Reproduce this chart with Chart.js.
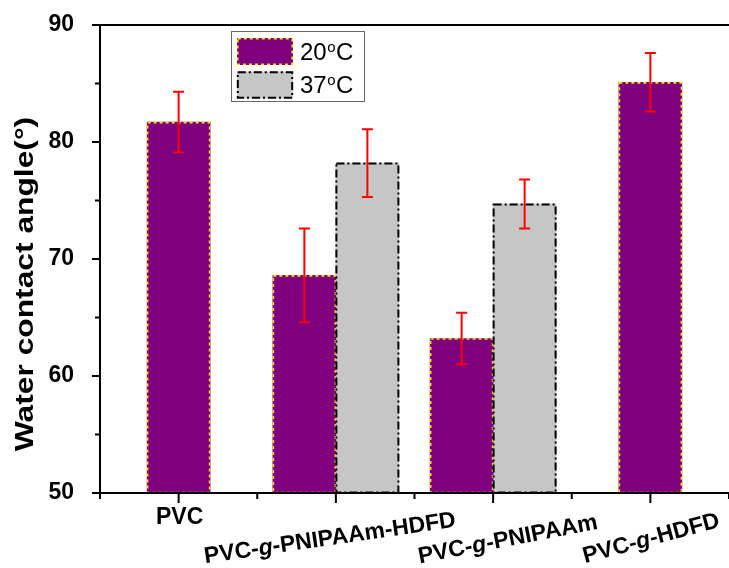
<!DOCTYPE html>
<html>
<head>
<meta charset="utf-8">
<script src="https://cdn.jsdelivr.net/npm/chart.js@4/dist/chart.umd.min.js"></script>
<style>
  html, body { margin: 0; padding: 0; background: #fff; overflow: hidden; }
  #wrap { width: 729px; height: 568px; position: relative; }
</style>
</head>
<body>
<div id="wrap"><canvas id="c" width="729" height="568"></canvas></div>
<script>
// Samples and measured water contact angles (degrees), mean ± error
const categories = ['PVC', 'PVC-g-PNIPAAm-HDFD', 'PVC-g-PNIPAAm', 'PVC-g-HDFD'];
const temps = ['20', '37'];
const angle20 = [81.7, 68.6, 63.2, 85.1];
const err20 = [2.6, 4.0, 2.2, 2.5];
const angle37 = [null, 78.2, 74.7, null];
const err37 = [null, 2.9, 2.1, null];
const yTicks = [50, 60, 70, 80, 90];
const yTitle = 'Water contact angle(°)';

// Styling
const FONT = "'Liberation Sans', Arial, Helvetica, sans-serif";
const PURPLE = '#7f007f';
const GREY = '#c6c6c6';
const YELLOW = '#f4e400';
const RED = '#ff0000';
// per-label placement of the category names (offset from tick, baseline drop, tilt in degrees)
const labelPlacement = [
  { dx: 1, dy: 31, rot: 0 },
  { dx: -5, dy: 52, rot: 8.3 },
  { dx: 16, dy: 53, rot: 11 },
  { dx: 2.5, dy: 52, rot: 15 }
];

const styles = [
  { fill: PURPLE, stroke: YELLOW, dash: [3, 3], lw: 1.6 },
  { fill: GREY, stroke: '#000', dash: [8, 3, 2, 3], lw: 2 }
];

function strokeBox(ctx, x, y, w, h, st) {
  ctx.save();
  ctx.strokeStyle = st.stroke;
  ctx.lineWidth = st.lw;
  ctx.setLineDash(st.dash);
  ctx.strokeRect(x, y, w, h);
  ctx.restore();
}

// Dashed bar outlines and red error bars, placed from the bar elements
const barDecor = {
  id: 'barDecor',
  afterDatasetsDraw(chart) {
    const ctx = chart.ctx;
    const yScale = chart.scales.y;
    const bottom = chart.chartArea.bottom;
    chart.data.datasets.forEach((ds, i) => {
      const meta = chart.getDatasetMeta(i);
      meta.data.forEach((bar, j) => {
        const v = ds.data[j];
        if (v == null) return;
        const p = bar.getProps(['x', 'y', 'base', 'width'], true);
        const b = Math.min(p.base, bottom);
        strokeBox(ctx, p.x - p.width / 2 + 0.5, p.y + 0.5, p.width - 1, b - p.y - 1, styles[i]);
      });
    });
    chart.data.datasets.forEach((ds, i) => {
      const meta = chart.getDatasetMeta(i);
      meta.data.forEach((bar, j) => {
        const v = ds.data[j];
        const e = ds.errors[j];
        if (v == null || e == null) return;
        const x = bar.getProps(['x'], true).x;
        const yt = yScale.getPixelForValue(v + e);
        const yb = yScale.getPixelForValue(v - e);
        ctx.save();
        ctx.strokeStyle = RED;
        ctx.lineWidth = 2;
        ctx.beginPath();
        ctx.moveTo(x, yt); ctx.lineTo(x, yb);
        ctx.moveTo(x - 5.5, yt); ctx.lineTo(x + 5.5, yt);
        ctx.moveTo(x - 5.5, yb); ctx.lineTo(x + 5.5, yb);
        ctx.stroke();
        ctx.restore();
      });
    });
  }
};

// Frame lines, tick marks, category names, axis title and legend
const decor = {
  id: 'decor',
  afterDraw(chart) {
    const ctx = chart.ctx;
    const a = chart.chartArea;
    const xs = chart.scales.x, ys = chart.scales.y;
    ctx.save();
    ctx.strokeStyle = '#000';
    ctx.lineWidth = 2;
    ctx.beginPath();
    // top frame, left and bottom axis lines
    ctx.moveTo(a.left - 1, a.top); ctx.lineTo(a.right + 2, a.top);
    ctx.moveTo(a.left, a.top); ctx.lineTo(a.left, a.bottom + 1);
    ctx.moveTo(a.left - 1, a.bottom); ctx.lineTo(a.right + 2, a.bottom);
    // major y ticks
    yTicks.forEach(v => {
      const yy = ys.getPixelForValue(v);
      ctx.moveTo(a.left - 8, yy); ctx.lineTo(a.left, yy);
    });
    // minor y ticks halfway between labelled ticks
    for (let k = 0; k < yTicks.length - 1; k++) {
      const yy = ys.getPixelForValue((yTicks[k] + yTicks[k + 1]) / 2);
      ctx.moveTo(a.left - 5, yy); ctx.lineTo(a.left, yy);
    }
    // major x ticks at categories, minor ones at boundaries
    categories.forEach((c, k) => {
      const xx = xs.getPixelForValue(k);
      ctx.moveTo(xx, a.bottom); ctx.lineTo(xx, a.bottom + 10);
    });
    for (let k = 0; k <= categories.length; k++) {
      const xx = xs.getPixelForValue(k - 0.5);
      ctx.moveTo(xx, a.bottom); ctx.lineTo(xx, a.bottom + 6);
    }
    ctx.stroke();

    // category names, with the graft "g" in italics
    ctx.fillStyle = '#000';
    ctx.textBaseline = 'alphabetic';
    categories.forEach((lab, k) => {
      const pl = labelPlacement[k];
      const parts = lab.split('-');
      const pieces = [];
      parts.forEach((s, n) => {
        if (n > 0) pieces.push({ t: '-', it: false });
        pieces.push({ t: s, it: s === 'g' });
      });
      const fontFor = (it) => (it ? 'italic ' : '') + 'bold 23px ' + FONT;
      let total = 0;
      pieces.forEach(pc => { ctx.font = fontFor(pc.it); pc.w = ctx.measureText(pc.t).width; total += pc.w; });
      ctx.save();
      ctx.translate(xs.getPixelForValue(k) + pl.dx, a.bottom + pl.dy);
      ctx.rotate(-pl.rot * Math.PI / 180);
      let cx = -total / 2;
      ctx.textAlign = 'left';
      pieces.forEach(pc => { ctx.font = fontFor(pc.it); ctx.fillText(pc.t, cx, 0); cx += pc.w; });
      ctx.restore();
    });

    // y axis title
    ctx.save();
    ctx.translate(33, 284);
    ctx.rotate(-Math.PI / 2);
    ctx.scale(1.27, 1);
    ctx.font = 'bold 25px ' + FONT;
    ctx.textAlign = 'center';
    ctx.fillText(yTitle, 0, 0);
    ctx.restore();

    // legend
    const lx = a.left + 131.5, ly = a.top + 6.5;
    ctx.strokeStyle = '#666';
    ctx.lineWidth = 1;
    ctx.setLineDash([]);
    ctx.strokeRect(lx, ly, 133, 70);
    temps.forEach((t, i) => {
      const sy = ly + 6.5 + i * 33.5;
      const st = styles[i];
      ctx.fillStyle = st.fill;
      ctx.fillRect(lx + 5.5, sy, 56, 27);
      strokeBox(ctx, lx + 6.3, sy + 0.8, 54.4, 25.4, st);
      ctx.fillStyle = '#000';
      ctx.textAlign = 'left';
      const tx = lx + 68.5, base = sy + 21.5;
      ctx.font = '24px ' + FONT;
      ctx.fillText(t, tx, base);
      const w = ctx.measureText(t).width;
      ctx.font = '15px ' + FONT;
      ctx.fillText('o', tx + w + 0.5, base - 8);
      const ow = ctx.measureText('o').width;
      ctx.font = '24px ' + FONT;
      ctx.fillText('C', tx + w + ow + 1, base);
    });
    ctx.restore();
  }
};

const chart = new Chart(document.getElementById('c').getContext('2d'), {
  type: 'bar',
  data: {
    labels: categories,
    datasets: [
      { label: temps[0], data: angle20, errors: err20, backgroundColor: PURPLE, borderWidth: 0, barThickness: 63, skipNull: true },
      { label: temps[1], data: angle37, errors: err37, backgroundColor: GREY, borderWidth: 0, barThickness: 63, skipNull: true }
    ]
  },
  options: {
    responsive: false,
    animation: false,
    devicePixelRatio: 1,
    layout: { padding: { left: 0, right: -5, top: 25, bottom: 0 } },
    plugins: { legend: { display: false }, tooltip: { enabled: false } },
    scales: {
      x: {
        offset: true,
        grid: { display: false },
        border: { display: false },
        ticks: { display: false },
        afterFit(s) { s.height = 75; s.paddingLeft = 0; s.paddingRight = 0; }
      },
      y: {
        min: yTicks[0],
        max: yTicks[yTicks.length - 1],
        afterBuildTicks(s) { s.ticks = yTicks.map(v => ({ value: v })); },
        ticks: { font: { family: FONT, size: 23, weight: 'bold' }, color: '#000', padding: 18 },
        grid: { display: false },
        border: { display: false },
        afterFit(s) { s.width = 100; s.paddingTop = 0; s.paddingBottom = 0; }
      }
    }
  },
  plugins: [barDecor, decor]
});
</script>
</body>
</html>
